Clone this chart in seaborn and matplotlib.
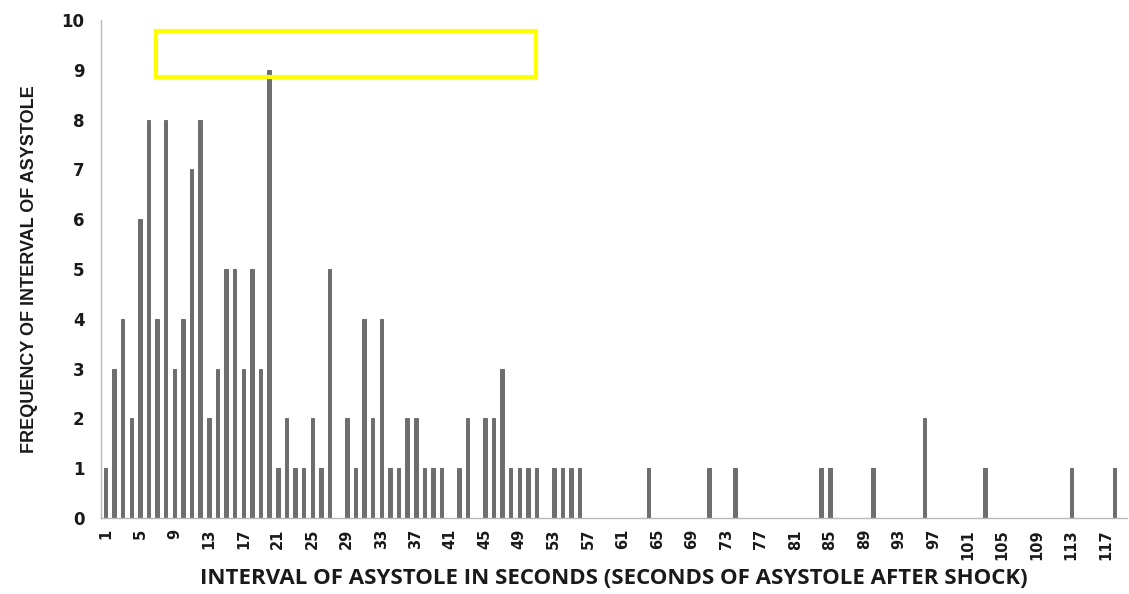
import matplotlib
matplotlib.use("Agg")
import matplotlib.pyplot as plt
from matplotlib.patches import Rectangle
from matplotlib.ticker import FixedLocator, MultipleLocator
import seaborn as sns
import pandas as pd

# Seconds of asystole after shock (1..119) and how often each interval occurred
seconds = list(range(1, 120))
frequency = [
    1, 3, 4, 2, 6, 8, 4, 8, 3, 4,      # 1-10
    7, 8, 2, 3, 5, 5, 3, 5, 3, 9,      # 11-20
    1, 2, 1, 1, 2, 1, 5, 0, 2, 1,      # 21-30
    4, 2, 4, 1, 1, 2, 2, 1, 1, 1,      # 31-40
    0, 1, 2, 0, 2, 2, 3, 1, 1, 1,      # 41-50
    1, 0, 1, 1, 1, 1, 0, 0, 0, 0,      # 51-60
    0, 0, 0, 1, 0, 0, 0, 0, 0, 0,      # 61-70
    1, 0, 0, 1, 0, 0, 0, 0, 0, 0,      # 71-80
    0, 0, 0, 1, 1, 0, 0, 0, 0, 1,      # 81-90
    0, 0, 0, 0, 0, 2, 0, 0, 0, 0,      # 91-100
    0, 0, 1, 0, 0, 0, 0, 0, 0, 0,      # 101-110
    0, 0, 1, 0, 0, 0, 0, 1, 0,         # 111-119
]
label_step = 4
x_title = "INTERVAL OF ASYSTOLE IN SECONDS (SECONDS OF ASYSTOLE AFTER SHOCK)"
y_title = "FREQUENCY OF INTERVAL OF ASYSTOLE"

df = pd.DataFrame({"seconds": [str(s) for s in seconds], "frequency": frequency})

sns.set_style("white")
plt.rcParams["font.family"] = ["DejaVu Sans"]

fig = plt.figure(figsize=(11.29, 5.94), dpi=100)
ax = fig.add_axes([0.0895, 0.128, 0.909, 0.8385])

sns.barplot(data=df, x="seconds", y="frequency", order=df["seconds"],
            color="#6e6e6e", width=0.4, saturation=1, ax=ax,
            edgecolor="#505050", linewidth=0.5)

n = len(seconds)
ax.set_xlim(-0.5, n - 0.5)
ax.set_ylim(0, 10)
ax.yaxis.set_major_locator(MultipleLocator(1))

# category labels every fourth second, small ticks on every category boundary
ax.set_xticks(range(0, n, label_step))
ax.set_xticklabels([str(s) for s in seconds[::label_step]], rotation=90,
                   fontsize=10.5, fontweight="bold", color="#1a1a1a")
ax.xaxis.set_minor_locator(FixedLocator([i - 0.5 for i in range(n + 1)]))
ax.tick_params(axis="x", which="major", length=0, pad=8)
ax.tick_params(axis="x", which="minor", length=5, width=0.8, color="#b0b0b0",
               direction="out")
ax.tick_params(axis="y", which="major", length=6, width=0.8, color="#b0b0b0",
               labelsize=12, pad=6)
for lab in ax.get_yticklabels():
    lab.set_fontweight("bold")
    lab.set_color("#1a1a1a")

for side in ("top", "right"):
    ax.spines[side].set_visible(False)
for side in ("left", "bottom"):
    ax.spines[side].set_color("#b8b8b8")
    ax.spines[side].set_linewidth(1.0)

ax.set_xlabel(x_title, fontsize=16, fontweight="bold", color="#1a1a1a",
              family=["Open Sans", "DejaVu Sans"], labelpad=6)
ax.set_ylabel(y_title, fontsize=13, fontweight="bold", color="#1a1a1a",
              family=["Liberation Sans", "DejaVu Sans"], labelpad=17)

# highlight box near the top of the plot
ax.add_patch(Rectangle((0.0535, 0.886), 0.3705, 0.092, transform=ax.transAxes,
                       fill=False, edgecolor="#ffff00", linewidth=3, clip_on=False))

fig.savefig("out.png", dpi=100, facecolor="white")
